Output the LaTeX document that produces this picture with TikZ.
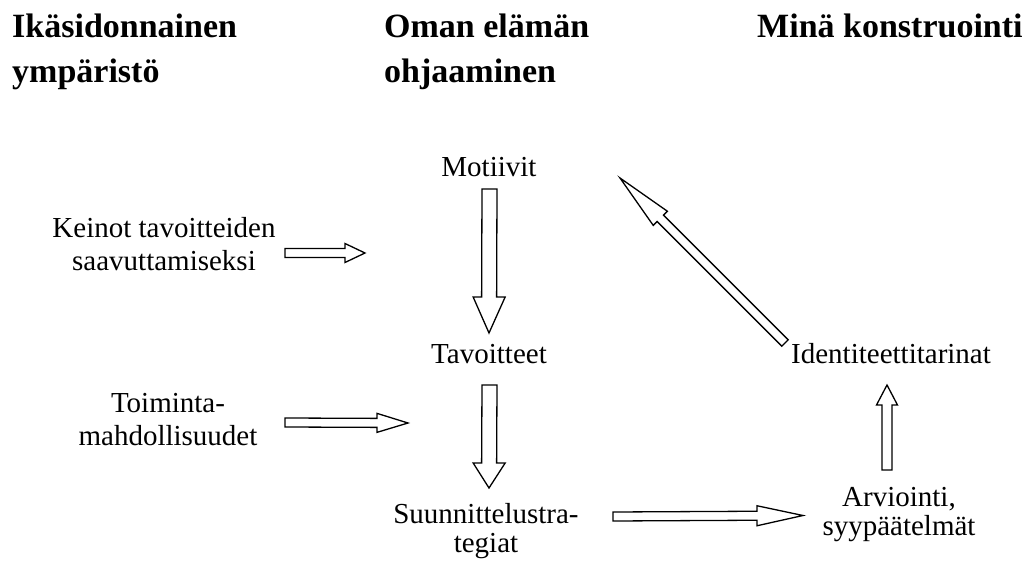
\documentclass[tikz,border=0pt]{standalone}
\usepackage{fontspec}
\setmainfont{Liberation Serif}
\usetikzlibrary{calc}

% Block arrow: #1 tail, #2 tip, #3 half shaft width, #4 half head width, #5 head length
\newcommand\blockarrow[5]{%
  \coordinate (ba-p) at ($(#2)!#5!(#1)$);
  \draw[blockline]
    ($(#1)!#3!90:(#2)$) -- ($(ba-p)!#3!-90:(#1)$) -- ($(ba-p)!#4!-90:(#1)$)
    -- (#2)
    -- ($(ba-p)!#4!90:(#1)$) -- ($(ba-p)!#3!90:(#1)$) -- ($(#1)!#3!-90:(#2)$) -- cycle;
}

\begin{document}
\begin{tikzpicture}[x=1pt,y=-1pt,
  blockline/.style={draw=black, fill=white, line width=1.3pt, line join=miter},
  heading/.style={anchor=base west, inner sep=0pt, font=\fontsize{34}{45}\selectfont\bfseries, align=left},
  label/.style={anchor=base, inner sep=0pt, font=\fontsize{29}{33}\selectfont, align=center},
  tight/.style={font=\fontsize{29}{29}\selectfont}]
  \useasboundingbox (0,0) rectangle (1029,562);

  % column headings (anchored on the baseline of the last line)
  \node[heading] (h1) at (12,82) {Ikäsidonnainen\\ympäristö};
  \node[heading] (h2) at (384,82) {Oman elämän\\ohjaaminen};
  \node[heading] (h3) at (757,37) {Minä konstruointi};

  % concepts
  \node[label] (mot) at (489,176) {Motiivit};
  \node[label] (kei) at (164,270) {Keinot tavoitteiden\\saavuttamiseksi};
  \node[label] (tav) at (489,363) {Tavoitteet};
  \node[label] (toi) at (168,445) {Toiminta-\\mahdollisuudet};
  \node[label,tight] (suu) at (486,552) {Suunnittelustra-\\tegiat};
  \node[label] (ide) at (891,363) {Identiteettitarinat};
  \node[label,tight] (arv) at (899,535) {Arviointi,\\syypäätelmät};

  % arrow end points
  \coordinate (a1s) at (489.5,189);  \coordinate (a1e) at (489,333);
  \coordinate (a2s) at (489.5,385);  \coordinate (a2e) at (489,488);
  \coordinate (a3s) at (285,253);    \coordinate (a3e) at (365,253);
  \coordinate (a4s) at (285,422.5);  \coordinate (a4e) at (408,423);
  \coordinate (a5s) at (613,516.5);  \coordinate (a5e) at (803,515.5);
  \coordinate (a6s) at (887,470);    \coordinate (a6e) at (887,385);
  \coordinate (a7s) at (785,343);    \coordinate (a7e) at (620,178);

  \blockarrow{a1s}{a1e}{7.5pt}{16pt}{36pt}
  \blockarrow{a2s}{a2e}{7.5pt}{16pt}{25pt}
  \blockarrow{a3s}{a3e}{4.5pt}{9.5pt}{20pt}
  \blockarrow{a4s}{a4e}{4.5pt}{9.5pt}{31pt}
  \blockarrow{a5s}{a5e}{4.5pt}{10pt}{46pt}
  \blockarrow{a6s}{a6e}{5pt}{10.5pt}{20pt}
  \blockarrow{a7s}{a7e}{4.5pt}{10pt}{57pt}
\end{tikzpicture}
\end{document}
